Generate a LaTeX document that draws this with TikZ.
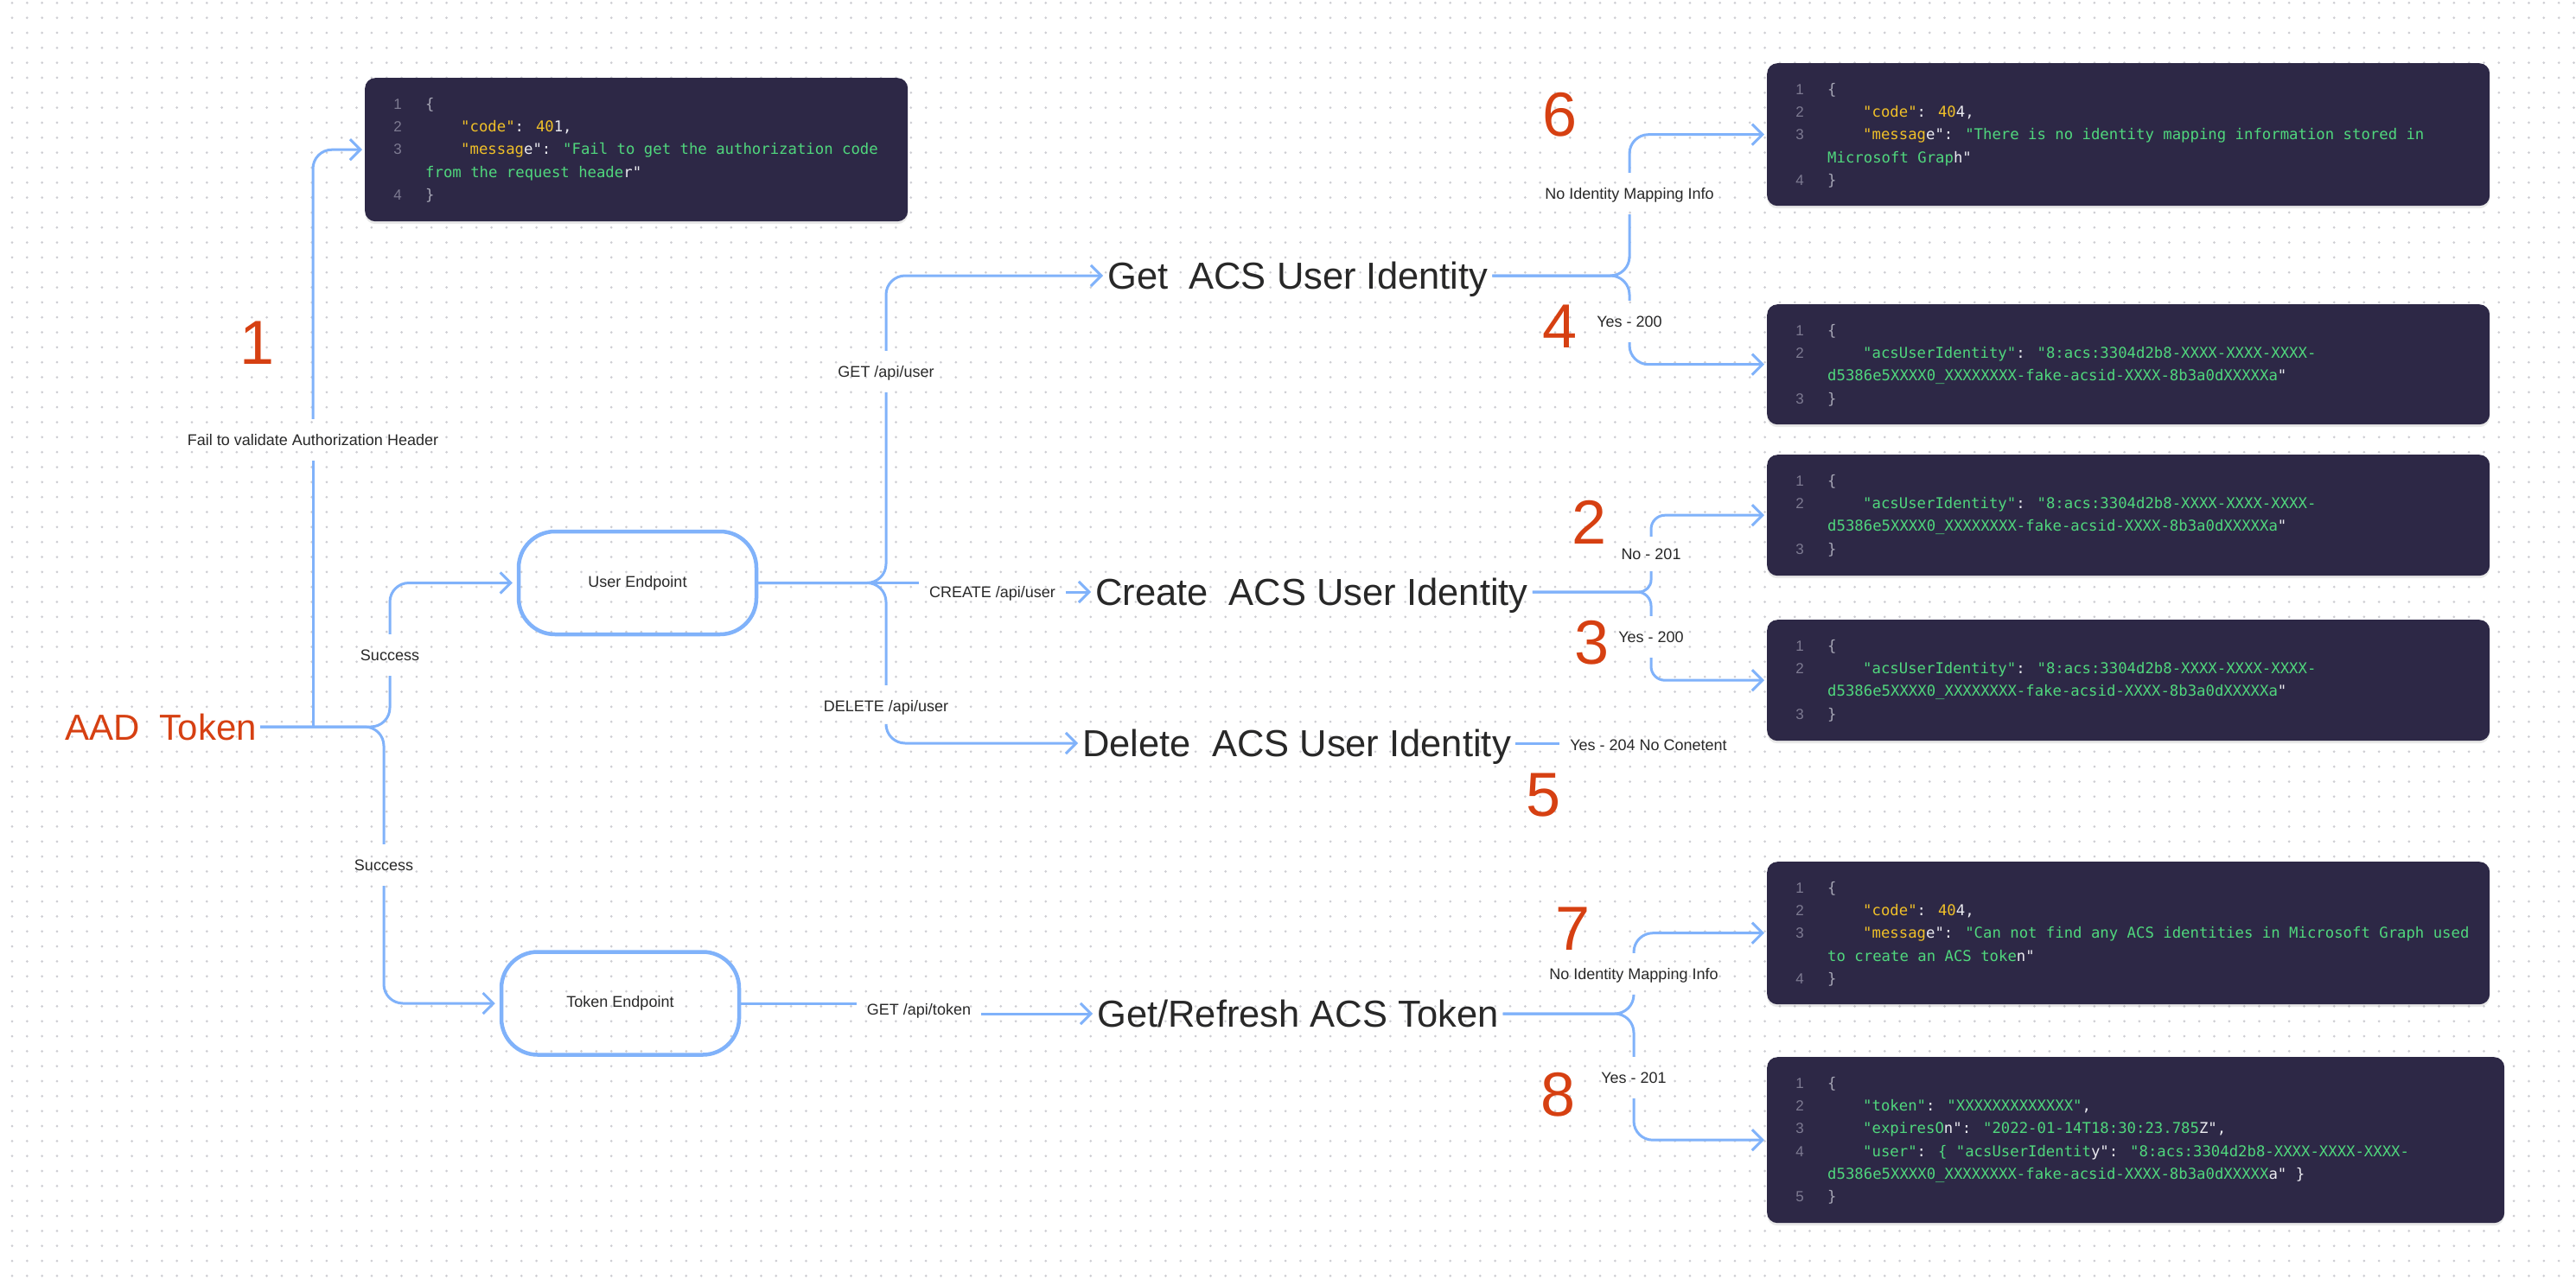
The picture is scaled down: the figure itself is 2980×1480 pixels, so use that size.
\documentclass[tikz,border=0pt]{standalone}
\usepackage{fontspec}
\setmainfont{Liberation Sans}
\newfontfamily\codefont{DejaVu Sans Mono}
\usetikzlibrary{arrows.meta,calc,shadows}
\definecolor{linkblue}{RGB}{128,178,250}
\definecolor{redc}{RGB}{214,64,18}
\definecolor{textdark}{RGB}{40,40,40}
\definecolor{boxbg}{RGB}{45,40,70}
\definecolor{cyel}{RGB}{240,192,40}
\definecolor{cgrn}{RGB}{80,215,125}
\definecolor{cwht}{RGB}{235,235,240}
\definecolor{cbrc}{RGB}{165,165,180}
\definecolor{cnumc}{RGB}{125,122,145}
\definecolor{dotc}{RGB}{205,205,210}
\newcommand\codeY[1]{\textcolor{cyel}{#1}}
\newcommand\codeG[1]{\textcolor{cgrn}{#1}}
\newcommand\codeW[1]{\textcolor{cwht}{#1}}
\newcommand\codeB[1]{\textcolor{cbrc}{#1}}
\newcommand\cnm[3]{\node[lnst] (#1n#2) at ($(#1.north west)+(38,{32+#2*26.3})$) {#3};}
\newcommand\ctx[4]{\node[cdst] (#1t#2) at ($(#1.north west)+(#3,{32+#2*26.3})$) {#4};}
\newcommand\idlines[1]{%
  \cnm{#1}{0}{1}\ctx{#1}{0}{70}{\codeB{\{}}
  \cnm{#1}{1}{2}\ctx{#1}{1}{111}{\codeG{"acsUserIdentity"}\codeW{: }\codeG{"8:acs:3304d2b8-XXXX-XXXX-XXXX-}}
  \ctx{#1}{2}{70}{\codeG{d5386e5XXXX0\_XXXXXXXX-fake-acsid-XXXX-8b3a0dXXXXXa}\codeW{"}}
  \cnm{#1}{3}{3}\ctx{#1}{3}{70}{\codeB{\}}}}
\begin{document}
\begin{tikzpicture}[x=1pt,y=-1pt,
  conn/.style={draw=linkblue,line width=3pt,rounded corners=22pt},
  tip/.style={-{Straight Barb[length=12pt,width=24pt]},shorten >=3pt},
  dotst/.style={draw=dotc,line width=3pt,line cap=round,dash pattern=on 0pt off 17.33pt},
  codebox/.style={fill=boxbg,rounded corners=12pt,inner sep=0pt,anchor=north west,
     drop shadow={shadow xshift=0pt,shadow yshift=-3pt,opacity=0.18}},
  lnst/.style={font=\fontsize{17}{20}\selectfont,text=cnumc,anchor=center,inner sep=0pt,text height=12pt,text depth=3.5pt},
  cdst/.style={font=\codefont\fontsize{17.3}{20}\selectfont,anchor=west,inner sep=0pt,text height=12pt,text depth=3.5pt},
  lbl/.style={font=\fontsize{18}{22}\selectfont,text=textdark,text height=13pt,text depth=0pt,inner xsep=12pt,inner ysep=0pt,minimum height=48pt},
  bigt/.style={font=\fontsize{43.5}{52}\selectfont,text=textdark,anchor=west,inner xsep=5pt,inner ysep=0pt,text height=31pt,text depth=0pt},
  rednum/.style={font=\fontsize{72}{80}\selectfont,text=redc,inner sep=0pt},
  epbox/.style={draw=linkblue,line width=4.5pt,rounded corners=42pt,minimum width=275pt,minimum height=119pt,font=\fontsize{18}{22}\selectfont,text=textdark}
]
\fill[white] (0,0) rectangle (2980,1480);
\useasboundingbox (0,0) rectangle (2980,1480);
\foreach \i in {0,...,85}{\draw[dotst] (14,{3.3+\i*17.33}) -- (2980,{3.3+\i*17.33});}

% code boxes
\node[codebox,minimum width=628pt,minimum height=166pt] (c1) at (422,90) {};
\node[codebox,minimum width=836pt,minimum height=165pt] (c6) at (2044,73) {};
\node[codebox,minimum width=836pt,minimum height=139pt] (c4) at (2044,352) {};
\node[codebox,minimum width=836pt,minimum height=140pt] (c2) at (2044,526) {};
\node[codebox,minimum width=836pt,minimum height=140pt] (c3) at (2044,717) {};
\node[codebox,minimum width=836pt,minimum height=165pt] (c7) at (2044,997) {};
\node[codebox,minimum width=853pt,minimum height=192pt] (c8) at (2044,1223) {};

% code lines
\cnm{c1}{0}{1}\ctx{c1}{0}{70}{\codeB{\{}}
\cnm{c1}{1}{2}\ctx{c1}{1}{111}{\codeY{"code"}\codeW{: }\codeY{40}\codeW{1,}}
\cnm{c1}{2}{3}\ctx{c1}{2}{111}{\codeY{"messag}\codeW{e": }\codeG{"Fail to get the authorization code}}
\ctx{c1}{3}{70}{\codeG{from the request heade}\codeW{r"}}
\cnm{c1}{4}{4}\ctx{c1}{4}{70}{\codeB{\}}}

\cnm{c6}{0}{1}\ctx{c6}{0}{70}{\codeB{\{}}
\cnm{c6}{1}{2}\ctx{c6}{1}{111}{\codeY{"code"}\codeW{: }\codeY{40}\codeW{4,}}
\cnm{c6}{2}{3}\ctx{c6}{2}{111}{\codeY{"messag}\codeW{e": }\codeG{"There is no identity mapping information stored in}}
\ctx{c6}{3}{70}{\codeG{Microsoft Grap}\codeW{h"}}
\cnm{c6}{4}{4}\ctx{c6}{4}{70}{\codeB{\}}}

\idlines{c4}
\idlines{c2}
\idlines{c3}

\cnm{c7}{0}{1}\ctx{c7}{0}{70}{\codeB{\{}}
\cnm{c7}{1}{2}\ctx{c7}{1}{111}{\codeY{"code"}\codeW{: }\codeY{40}\codeW{4,}}
\cnm{c7}{2}{3}\ctx{c7}{2}{111}{\codeY{"messag}\codeW{e": }\codeG{"Can not find any ACS identities in Microsoft Graph used}}
\ctx{c7}{3}{70}{\codeG{to create an ACS toke}\codeW{n"}}
\cnm{c7}{4}{4}\ctx{c7}{4}{70}{\codeB{\}}}

\cnm{c8}{0}{1}\ctx{c8}{0}{70}{\codeB{\{}}
\cnm{c8}{1}{2}\ctx{c8}{1}{111}{\codeG{"token"}\codeW{: }\codeG{"XXXXXXXXXXXXX"}\codeW{,}}
\cnm{c8}{2}{3}\ctx{c8}{2}{111}{\codeG{"expiresO}\codeW{n": }\codeG{"2022-01-14T18:30:23.785}\codeW{Z",}}
\cnm{c8}{3}{4}\ctx{c8}{3}{111}{\codeG{"user"}\codeW{: }\codeG{\{ "acsUserIdentit}\codeW{y": }\codeG{"8:acs:3304d2b8-XXXX-XXXX-XXXX-}}
\ctx{c8}{4}{70}{\codeG{d5386e5XXXX0\_XXXXXXXX-fake-acsid-XXXX-8b3a0dXXXXX}\codeW{a" \}}}
\cnm{c8}{5}{5}\ctx{c8}{5}{70}{\codeB{\}}}

% main nodes
\node[anchor=west,font=\fontsize{42}{48}\selectfont,text=redc,text height=30pt,text depth=0pt,inner xsep=4pt,inner ysep=0pt] (aad) at (71,841) {AAD\ \ Token};
\node[epbox] (user) at (737.5,674.5) {User Endpoint};
\node[epbox] (tokenep) at (717.5,1161) {Token Endpoint};
\node[bigt] (getid) at (1276,319) {Get\ \ ACS User Identity};
\node[bigt] (createid) at (1262,685) {Create\ \ ACS User Identity};
\node[bigt] (deleteid) at (1247,860) {Delete\ \ ACS User Identity};
\node[bigt] (tokid) at (1264,1173) {Get/Refresh ACS Token};

% labels
\node[lbl] (lfail) at (362,509) {Fail to validate Authorization Header};
\node[lbl] (ls1) at (451,758) {Success};
\node[lbl] (ls2) at (444,1001) {Success};
\node[lbl] (lget) at (1025,430) {GET /api/user};
\node[lbl] (lcreate) at (1148,685) {CREATE /api/user};
\node[lbl] (ldel) at (1025,817) {DELETE /api/user};
\node[lbl] (lno6) at (1885,224) {No Identity Mapping Info};
\node[lbl] (ly4) at (1885,372) {Yes - 200};
\node[lbl,minimum height=40pt] (ln2) at (1910,641) {No - 201};
\node[lbl] (ly3) at (1910,737) {Yes - 200};
\node[lbl] (ly5) at (1907,862) {Yes - 204 No Conetent};
\node[lbl] (ltok) at (1063,1168) {GET /api/token};
\node[lbl] (ln7) at (1890,1127) {No Identity Mapping Info};
\node[lbl] (ly8) at (1890,1247) {Yes - 201};

% red step numbers
\node[rednum] (r1) at (298,397) {1};
\node[rednum] (r6) at (1805,133) {6};
\node[rednum] (r4) at (1805,378) {4};
\node[rednum] (r2) at (1838,604) {2};
\node[rednum] (r3) at (1841,744) {3};
\node[rednum] (r5) at (1786,920) {5};
\node[rednum] (r7) at (1819,1075) {7};
\node[rednum] (r8) at (1803,1267) {8};

% connectors from AAD token
\draw[conn] (aad.east) -| (ls1.south);
\draw[conn,tip,shorten >=5pt] (ls1.north) |- (user.west);
\draw[conn] (aad.east) -| (ls2.north);
\draw[conn,tip,shorten >=5pt] (ls2.south) |- (tokenep.west);
\draw[conn] (aad.east -| lfail.south) -- (lfail.south);
\draw[conn,tip] (lfail.north) |- (c1.west);

% user endpoint
\draw[conn] (user.east) -- (user.east -| lcreate.west);
\draw[conn,tip,shorten >=0pt] (lcreate.east) -- (createid.west);
\draw[conn] (user.east) -| (lget.south);
\draw[conn,tip,shorten >=0pt] (lget.north) |- (getid.west);
\draw[conn] (user.east) -| (ldel.north);
\draw[conn,tip,shorten >=0pt] (ldel.south) |- (deleteid.west);

% get identity
\draw[conn] (getid.east) -| (lno6.south);
\draw[conn,tip] (lno6.north) |- (c6.west);
\draw[conn] (getid.east) -| (ly4.north);
\draw[conn,tip] (ly4.south) |- (c4.west);

% create identity
\draw[conn,rounded corners=14pt] (createid.east) -| (ln2.south);
\draw[conn,rounded corners=16pt,tip] (ln2.north) |- (c2.west);
\draw[conn,rounded corners=16pt] (createid.east) -| (ly3.north);
\draw[conn,rounded corners=16pt,tip] (ly3.south) |- (c3.west);

% delete identity
\draw[conn] (deleteid.east) -- (deleteid.east -| ly5.west);

% token
\draw[conn] (tokenep.east) -- (tokenep.east -| ltok.west);
\draw[conn,tip,shorten >=0pt] (ltok.east |- tokid.west) -- (tokid.west);
\draw[conn] (tokid.east) -| (ln7.south);
\draw[conn,tip] (ln7.north) |- (c7.west);
\draw[conn] (tokid.east) -| (ly8.north);
\draw[conn,tip] (ly8.south) |- (c8.west);
\end{tikzpicture}
\end{document}
